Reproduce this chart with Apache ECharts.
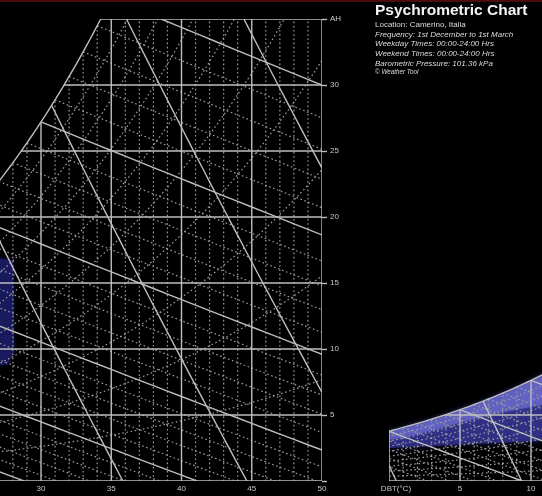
<!DOCTYPE html>
<html>
<head>
<meta charset="utf-8">
<script src="https://cdn.jsdelivr.net/npm/echarts@6/dist/echarts.min.js"></script>
<style>
  html, body { margin: 0; padding: 0; background: #000; }
  #chart { width: 542px; height: 496px; }
</style>
</head>
<body>
<div id="chart"></div>
<script>
// Barometric pressure of the site, kPa
const pressure = 101.36;

// Saturation vapour pressure (kPa) for each whole degree, starting at -5 °C
const satTempStart = -5;
const satVapourPressure = [
  0.4017, 0.4375, 0.4760, 0.5176, 0.5626,
  0.6112, 0.6571, 0.7060, 0.7581, 0.8135, 0.8726, 0.9354, 1.0021, 1.0730, 1.1482,
  1.2282, 1.3130, 1.4028, 1.4981, 1.5990, 1.7058, 1.8188, 1.9384, 2.0647, 2.1983,
  2.3393, 2.4882, 2.6453, 2.8111, 2.9858, 3.1699, 3.3639, 3.5681, 3.7831, 4.0092,
  4.2470, 4.4969, 4.7596, 5.0354, 5.3251, 5.6290, 5.9479, 6.2823, 6.6328, 7.0002,
  7.3849, 7.7878, 8.2096, 8.6508, 9.1124, 9.5950, 10.099, 10.627, 11.177, 11.752, 12.352
];

// Chart extents
const dbtMax = 50;        // °C
const ahMax = 35;         // g/kg
const ahLevels = [0, 5, 10, 15, 20, 25, 30, 35];
const rhLevels = [10, 20, 30, 40, 50, 60, 70, 80, 90];
const wetBulbLevels = [-4, -3, -2, -1, 0, 1, 2, 3, 4, 5, 6, 7, 8, 9, 10, 11, 12, 13, 14, 15, 16, 17,
  18, 19, 20, 21, 22, 23, 24, 25, 26, 27, 28, 29, 30, 31, 32, 33, 34, 35];
const volumeLevels = [0.775, 0.8, 0.825, 0.85, 0.875, 0.9, 0.925, 0.95];

// Winter readings band (DBT °C against AH g/kg)
const bandDbt = [0, 1, 2, 3, 4, 5, 6, 7, 8, 9, 10, 11];
const bandUpperAh = [3.75, 4.04, 4.34, 4.66, 5.0, 5.37, 5.76, 6.18, 6.62, 7.09, 7.59, 8.12];
const bandCoreAh = [3.1, 3.3, 3.55, 3.8, 4.1, 4.4, 4.7, 5.0, 5.2, 5.4, 5.6, 5.8];
const bandLowerAh = [2.5, 2.55, 2.6, 2.65, 2.7, 2.75, 2.8, 2.85, 2.9, 2.95, 3.0, 3.05];

// Shaded block on the warm chart
const blockDbt = [25, 28.0, 28.1, 27.6, 25];
const blockAh = [17.3, 16.7, 9.8, 8.8, 8.8];

// Header text
const chartTitle = 'Psychrometric Chart';
const infoLines = [
  ['n', 'Location: Camerino, Italia'],
  ['i', 'Frequency: 1st December to 1st March'],
  ['i', 'Weekday Times: 00:00-24:00 Hrs'],
  ['i', 'Weekend Times: 00:00-24:00 Hrs'],
  ['i', 'Barometric Pressure: 101.36 kPa'],
  ['s', '\u00A9 Weather Tool']
];

const FONT = '"Liberation Sans", Arial, sans-serif';

// ---- psychrometric relations ----
function pws(T) {
  let f = T - satTempStart;
  f = Math.max(0, Math.min(satVapourPressure.length - 1.000001, f));
  const i = Math.floor(f), r = f - i;
  return Math.exp(Math.log(satVapourPressure[i]) * (1 - r) + Math.log(satVapourPressure[i + 1]) * r);
}
function ahAt(T, rh) {
  const pw = rh / 100 * pws(T);
  return 622 * pw / (pressure - pw);
}
function solve(fn, lo, hi) {
  let flo = fn(lo);
  for (let k = 0; k < 60; k++) {
    const mid = (lo + hi) / 2, fm = fn(mid);
    if ((fm > 0) === (flo > 0)) { lo = mid; flo = fm; } else { hi = mid; }
  }
  return (lo + hi) / 2;
}
function satTempFor(W) {
  if (ahAt(satTempStart, 100) >= W) return satTempStart;
  return solve(T => ahAt(T, 100) - W, satTempStart, dbtMax);
}
function ahOnWetBulb(T, twb) {
  const ws = ahAt(twb, 100) / 1000;
  return 1000 * ((2501 - 2.326 * twb) * ws - 1.006 * (T - twb)) / (2501 + 1.86 * T - 4.186 * twb);
}
function ahOnVolume(T, v) {
  return 1000 * (v * pressure / (0.287042 * (T + 273.15)) - 1) / 1.607858;
}
function trace(fn, t0, t1, step) {
  const pts = [];
  for (let t = t0; t < t1; t += step) pts.push([t, fn(t)]);
  pts.push([t1, fn(t1)]);
  return pts;
}

// ---- build the chart lines ----
const solidLines = [];
const dottedLines = [];

// dry-bulb verticals
for (let T = 0; T <= dbtMax; T++) {
  const line = [[T, 0], [T, Math.min(ahAt(T, 100), ahMax)]];
  (T % 5 === 0 ? solidLines : dottedLines).push(line);
}
// absolute humidity horizontals
ahLevels.forEach(W => solidLines.push([[satTempFor(W), W], [dbtMax, W]]));
// saturation curve
solidLines.push(trace(T => ahAt(T, 100), satTempStart, satTempFor(ahMax), 0.25));
// relative humidity curves
rhLevels.forEach(rh => {
  const end = ahAt(dbtMax, rh) > ahMax ? solve(T => ahAt(T, rh) - ahMax, satTempStart, dbtMax) : dbtMax;
  dottedLines.push(trace(T => ahAt(T, rh), satTempStart, end, 0.5));
});
// wet-bulb lines
wetBulbLevels.forEach(twb => {
  const fn = T => ahOnWetBulb(T, twb);
  const start = ahAt(twb, 100) > ahMax ? solve(T => fn(T) - ahMax, twb, 120) : twb;
  const end = Math.min(dbtMax, solve(fn, twb, 120));
  if (start >= end) return;
  (twb % 5 === 0 ? solidLines : dottedLines).push(trace(fn, start, end, 1));
});
// specific volume lines
volumeLevels.forEach(v => {
  const fn = T => ahOnVolume(T, v);
  const zeroT = v * pressure / 0.287042 - 273.15;
  let start = satTempStart;
  if (fn(satTempStart) > ahAt(satTempStart, 100)) start = solve(T => fn(T) - ahAt(T, 100), satTempStart, zeroT);
  if (fn(start) > ahMax) start = solve(T => fn(T) - ahMax, satTempStart, zeroT);
  const end = Math.min(dbtMax, zeroT);
  if (start >= end) return;
  solidLines.push(trace(fn, start, end, 0.5));
});

// ---- series helpers ----
function polylineSeries(gridIdx, lines, style, z) {
  return {
    type: 'custom', coordinateSystem: 'cartesian2d',
    xAxisIndex: gridIdx, yAxisIndex: gridIdx, clip: true, silent: true, z,
    data: lines.map((pts, i) => [pts[0][0], pts[0][1], i]),
    renderItem(params, api) {
      const cs = params.coordSys;
      return {
        type: 'group',
        clipPath: { type: 'rect', shape: { x: cs.x, y: cs.y, width: cs.width, height: cs.height } },
        children: [{
          type: 'polyline',
          shape: { points: lines[api.value(2)].map(p => api.coord(p)) },
          style: Object.assign({ fill: null }, style)
        }]
      };
    }
  };
}
function areaSeries(gridIdx, xs, upper, lower, style, z) {
  const pts = xs.map((x, i) => [x, upper[i]]).concat(xs.map((x, i) => [x, lower[i]]).reverse());
  return {
    type: 'custom', coordinateSystem: 'cartesian2d',
    xAxisIndex: gridIdx, yAxisIndex: gridIdx, clip: true, silent: true, z,
    data: [[xs[0], upper[0]]],
    renderItem(params, api) {
      return { type: 'polygon', shape: { points: pts.map(p => api.coord(p)) }, style };
    }
  };
}
function blockSeries(gridIdx, xs, ys, style, z) {
  return {
    type: 'custom', coordinateSystem: 'cartesian2d',
    xAxisIndex: gridIdx, yAxisIndex: gridIdx, clip: true, silent: true, z,
    data: [[xs[0], ys[0]]],
    renderItem(params, api) {
      return { type: 'polygon', shape: { points: xs.map((x, i) => api.coord([x, ys[i]])) }, style };
    }
  };
}

const solidStyle = { stroke: '#bebebe', lineWidth: 1.4 };
const dottedStyle = { stroke: '#9c9c9c', lineWidth: 1.2, lineDash: [1.6, 2.6] };
const labelStyle = { color: '#c8c8c8', fontSize: 8, fontFamily: FONT };

const chart = echarts.init(document.getElementById('chart'), null, { renderer: 'canvas' });
chart.setOption({
  backgroundColor: '#000',
  animation: false,
  title: {
    left: 375, top: 1, padding: 0, itemGap: 0,
    text: chartTitle,
    textStyle: { color: '#f4f4f4', fontSize: 15.5, fontWeight: 'bold', fontFamily: FONT, lineHeight: 19 },
    subtext: infoLines.map(([k, t]) => '{' + k + '|' + t + '}').join('\n'),
    subtextStyle: {
      rich: {
        n: { color: '#dcdcdc', fontSize: 8, fontFamily: FONT, lineHeight: 9.7 },
        i: { color: '#dcdcdc', fontSize: 8, fontFamily: FONT, fontStyle: 'italic', lineHeight: 9.7 },
        s: { color: '#dcdcdc', fontSize: 6.3, fontFamily: FONT, fontStyle: 'italic', lineHeight: 8 }
      }
    }
  },
  graphic: [{
    type: 'rect', left: 0, top: 0, silent: true,
    shape: { width: 542, height: 2 }, style: { fill: '#4a0c0c' }
  }],
  grid: [
    { left: -29.25, top: 19, width: 351.25, height: 462, outerBoundsMode: 'none', containLabel: false },
    { left: 389, top: 19, width: 213, height: 462, outerBoundsMode: 'none', containLabel: false }
  ],
  xAxis: [
    {
      gridIndex: 0, type: 'value', min: 25, max: dbtMax, interval: 5,
      axisLine: { show: false }, axisTick: { show: false }, splitLine: { show: false },
      axisLabel: Object.assign({ margin: 4 }, labelStyle)
    },
    {
      gridIndex: 1, type: 'value', min: 0, max: 15, interval: 5,
      axisLine: { show: false }, axisTick: { show: false }, splitLine: { show: false },
      axisLabel: Object.assign({
        margin: 4,
        formatter: v => v === 0 ? '{d|DBT(\u00B0C)}' : String(v),
        rich: { d: { color: '#c8c8c8', fontSize: 8, fontFamily: FONT, padding: [0, 0, 0, 14] } }
      }, labelStyle)
    }
  ],
  yAxis: [
    {
      gridIndex: 0, type: 'value', min: 0, max: ahMax, interval: 5, position: 'right',
      axisLine: { show: false }, splitLine: { show: false },
      axisTick: { show: true, length: 5, lineStyle: { color: '#bebebe', width: 1.4 } },
      axisLabel: Object.assign({
        margin: 8,
        formatter: v => v === 0 ? '' : (v === ahMax ? 'AH' : String(v))
      }, labelStyle)
    },
    {
      gridIndex: 1, type: 'value', min: 0, max: ahMax, interval: 5, show: false
    }
  ],
  series: [
    blockSeries(0, blockDbt, blockAh, { fill: 'rgba(26,26,96,0.92)', shadowBlur: 4, shadowColor: 'rgba(26,26,96,0.8)' }, 1),
    areaSeries(1, bandDbt, bandUpperAh, bandLowerAh, { fill: 'rgba(62,62,175,0.6)', shadowBlur: 6, shadowColor: 'rgba(62,62,175,0.7)' }, 1),
    areaSeries(1, bandDbt, bandUpperAh, bandCoreAh, { fill: 'rgba(125,125,230,0.5)', shadowBlur: 5, shadowColor: 'rgba(125,125,230,0.6)' }, 2),
    polylineSeries(0, dottedLines, dottedStyle, 3),
    polylineSeries(1, dottedLines, dottedStyle, 3),
    polylineSeries(0, solidLines, solidStyle, 4),
    polylineSeries(1, solidLines, solidStyle, 4)
  ]
});
</script>
</body>
</html>
